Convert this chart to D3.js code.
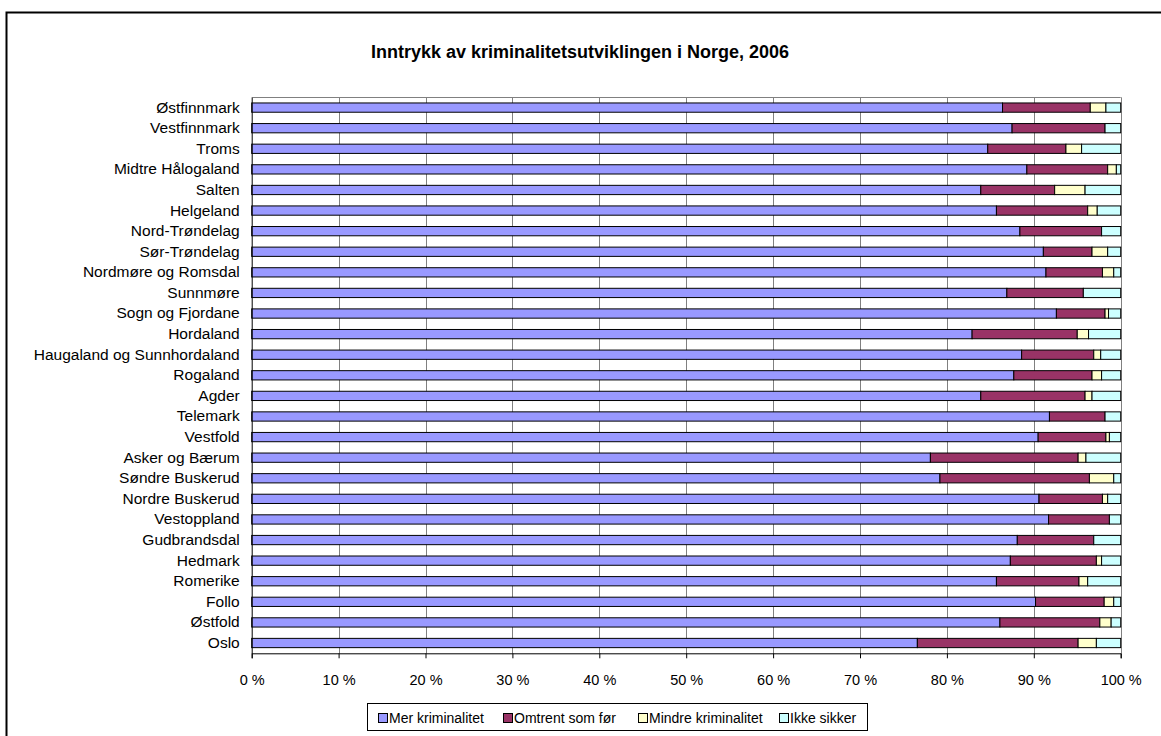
<!DOCTYPE html>
<html>
<head>
<meta charset="utf-8">
<script src="https://cdn.jsdelivr.net/npm/d3@7"></script>
<style>
  html, body { margin: 0; padding: 0; background: #fff; }
  svg { display: block; font-family: "Liberation Sans", Arial, sans-serif; }
</style>
</head>
<body>
<svg id="chart" width="1161" height="736"></svg>
<script>
const categories = ["Østfinnmark","Vestfinnmark","Troms","Midtre Hålogaland","Salten","Helgeland","Nord-Trøndelag","Sør-Trøndelag","Nordmøre og Romsdal","Sunnmøre","Sogn og Fjordane","Hordaland","Haugaland og Sunnhordaland","Rogaland","Agder","Telemark","Vestfold","Asker og Bærum","Søndre Buskerud","Nordre Buskerud","Vestoppland","Gudbrandsdal","Hedmark","Romerike","Follo","Østfold","Oslo"];
const merKriminalitet   = [86.4,87.5,84.7,89.2,83.9,85.7,88.4,91.1,91.4,86.9,92.6,82.9,88.6,87.7,83.9,91.8,90.5,78.1,79.2,90.6,91.7,88.1,87.3,85.7,90.2,86.1,76.6];
const omtrentSomFor     = [10.1,10.7,9.0,9.3,8.5,10.5,9.4,5.6,6.5,8.8,5.6,12.1,8.3,9.0,12.0,6.4,7.8,17.0,17.2,7.3,7.0,8.8,9.9,9.5,7.9,11.5,18.5];
const mindreKriminalitet= [1.8,0,1.8,1.0,3.5,1.1,0,1.8,1.3,0,0.4,1.3,0.8,1.1,0.8,0,0.4,0.9,2.8,0.6,0,0,0.6,1.0,1.1,1.3,2.1];
const ikkeSikker        = [1.7,1.8,4.5,0.5,4.1,2.7,2.2,1.5,0.8,4.3,1.4,3.7,2.3,2.2,3.3,1.8,1.3,4.0,0.8,1.5,1.3,3.1,2.2,3.8,0.8,1.1,2.8];
const seriesNames = ["Mer kriminalitet","Omtrent som før","Mindre kriminalitet","Ikke sikker"];
const seriesColors = ["#9999FF","#993366","#FFFFCC","#CCFFFF"];
const tickValues = [0,10,20,30,40,50,60,70,80,90,100];
const title = "Inntrykk av kriminalitetsutviklingen i Norge, 2006";

const svg = d3.select("#chart");

// outer frame
svg.append("rect").attr("x",6.5).attr("y",12.5).attr("width",1200).attr("height",800)
  .attr("fill","none").attr("stroke","#000").attr("stroke-width",2);

const pLeft = 251.7, pRight = 1120.7, pTop = 97.3, pBottom = 653.3;

const x = d3.scaleLinear().domain([0,100]).range([pLeft,pRight]);
const y = d3.scaleBand().domain(categories).range([pTop,pBottom]).paddingInner(0.55).paddingOuter(0.275);

const rows = categories.map((c,i)=>({cat:c, s0:merKriminalitet[i], s1:omtrentSomFor[i], s2:mindreKriminalitet[i], s3:ikkeSikker[i]}));
const stack = d3.stack().keys(["s0","s1","s2","s3"])(rows);

// title
svg.append("text").attr("x",580).attr("y",58).attr("text-anchor","middle")
  .attr("font-size","18px").attr("font-weight","bold").text(title);

// gridlines
svg.append("g").selectAll("line").data(tickValues.slice(1)).join("line")
  .attr("x1",d=>Math.round(x(d))+0.5).attr("x2",d=>Math.round(x(d))+0.5)
  .attr("y1",pTop).attr("y2",pBottom).attr("stroke","#808080").attr("stroke-width",1);
// plot border top
svg.append("line").attr("x1",pLeft).attr("x2",pRight).attr("y1",Math.round(pTop)+0.5).attr("y2",Math.round(pTop)+0.5)
  .attr("stroke","#808080");

// bars
const g = svg.append("g");
stack.forEach((layer,li)=>{
  g.append("g").selectAll("rect").data(layer.filter(d=>d[1]-d[0]>0)).join("rect")
    .attr("x",d=>x(d[0])).attr("width",d=>x(d[1])-x(d[0]))
    .attr("y",d=>y(d.data.cat)).attr("height",y.bandwidth())
    .attr("fill",seriesColors[li]).attr("stroke","#000").attr("stroke-width",1);
});

// x axis
const xAxis = d3.axisBottom(x).tickValues(tickValues).tickFormat(d=>d+" %").tickSize(5).tickPadding(16);
const ax = svg.append("g").attr("transform",`translate(0,${pBottom})`).call(xAxis);
ax.select(".domain").attr("stroke","#000");
ax.selectAll(".tick line").attr("stroke","#000");
ax.selectAll("text").attr("font-size","14.5px").attr("fill","#000").attr("font-family","Liberation Sans, Arial, sans-serif");

// y axis
const yAxis = d3.axisLeft(y).tickSize(0).tickPadding(12);
const ay = svg.append("g").attr("transform",`translate(${pLeft},0)`).call(yAxis);
ay.select(".domain").attr("stroke","#000");
ay.selectAll("text").attr("font-size","15.5px").attr("fill","#000").attr("font-family","Liberation Sans, Arial, sans-serif");

// legend
const lg = svg.append("g");
lg.append("rect").attr("x",367.5).attr("y",703.5).attr("width",500).attr("height",27)
  .attr("fill","#fff").attr("stroke","#000");
const legX = [378, 503, 638, 779];
seriesNames.forEach((n,i)=>{
  lg.append("rect").attr("x",legX[i]+0.5).attr("y",713.5).attr("width",9).attr("height",9)
    .attr("fill",seriesColors[i]).attr("stroke","#000");
  lg.append("text").attr("x",legX[i]+11).attr("y",723).attr("font-size","14px").text(n);
});
</script>
</body>
</html>
